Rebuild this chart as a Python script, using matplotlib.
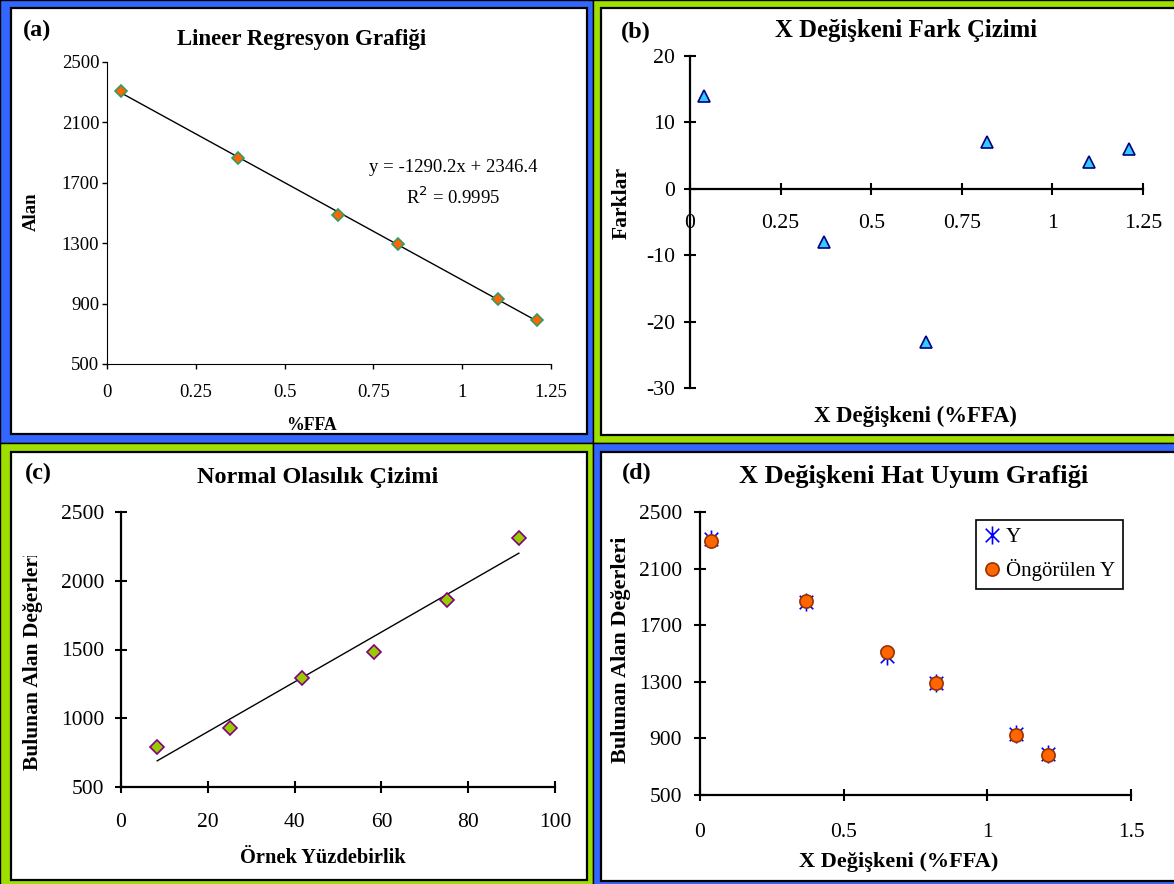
import numpy as np
import matplotlib
matplotlib.use("Agg")
from matplotlib import pyplot as plt
from matplotlib.patches import Rectangle
from matplotlib.path import Path
from matplotlib.transforms import Bbox, TransformedBbox

plt.rcParams["font.family"] = ["Liberation Serif", "DejaVu Serif"]

# Veriler
ffa = [0.04, 0.37, 0.65, 0.82, 1.10, 1.21]
alan = [2309, 1861, 1485, 1295, 931, 791]
ongorulen = [2295, 1869, 1508, 1288, 927, 785]
farklar = [14, -8, -23, 7, 4, 6]
yuzdebirlik = [8.33, 25, 41.67, 58.33, 75, 91.67]
alan_sirali = [791, 931, 1295, 1485, 1861, 2309]

# Eksen isaretleri
a_xticks = [0, 0.25, 0.5, 0.75, 1, 1.25]
a_yticks = [500, 900, 1300, 1700, 2100, 2500]
b_yticks = [-30, -20, -10, 0, 10, 20]
c_xticks = [0, 20, 40, 60, 80, 100]
c_yticks = [500, 1000, 1500, 2000, 2500]
d_xticks = [0, 0.5, 1, 1.5]

MAVI = "#3366FF"
YESIL = "#9EDF00"

W, H = 1174, 884
fig = plt.figure(figsize=(W / 100, H / 100), dpi=100)

# Excel tarzi yildiz isareti: X + dikey cizgi
yildiz = Path([(0, -1), (0, 1), (-0.75, -0.75), (0.75, 0.75), (-0.75, 0.75), (0.75, -0.75)],
              [Path.MOVETO, Path.LINETO, Path.MOVETO, Path.LINETO, Path.MOVETO, Path.LINETO])


def px(x0, y0, x1, y1):
    # piksel kutusunu figur oranina cevirir
    return [x0 / W, 1 - y1 / H, (x1 - x0) / W, (y1 - y0) / H]


def cerceve(dis, ic, renk):
    l, b, w, h = px(*dis)
    fig.add_artist(Rectangle((l, b), w, h, transform=fig.transFigure,
                             facecolor=renk, edgecolor="black", lw=1, zorder=-10))
    l, b, w, h = px(*ic)
    fig.add_artist(Rectangle((l, b), w, h, transform=fig.transFigure,
                             facecolor="white", edgecolor="black", lw=1.6, zorder=-9))


def yazi(x, y, s, **kw):
    return fig.text(x / W, 1 - y / H, s, **kw)


def etiket(v):
    return f"{v:g}"


def excel_eksen(ax, boyut, xpad, ypad):
    ax.set_facecolor("none")
    ax.spines[["top", "right"]].set_visible(False)
    for s in ("left", "bottom"):
        ax.spines[s].set_linewidth(1.6)
    ax.tick_params(direction="inout", length=8.6, width=1.5, labelsize=boyut)
    ax.tick_params(axis="x", pad=xpad)
    ax.tick_params(axis="y", pad=ypad)


cerceve((0, 0, 593, 443), (11, 8, 587, 434), MAVI)
cerceve((593, 0, 1180, 443), (601, 8, 1180, 435), YESIL)
cerceve((0, 443, 593, 890), (11, 452, 587, 880), YESIL)
cerceve((593, 443, 1180, 890), (601, 452, 1180, 881), MAVI)

# (a) Lineer regresyon
ax = fig.add_axes(px(107, 62, 551, 364))
ax.set_facecolor("none")
egim, kesim = np.polyfit(ffa, alan, 1)
xs = np.array([min(ffa), max(ffa)])
ax.plot(xs, egim * xs + kesim, color="black", lw=1)
ax.plot(ffa, alan, linestyle="none", marker="D", ms=6.5, mfc="#FF6600", mec="#339966", mew=1.2)
ax.set_xlim(0, 1.25)
ax.set_ylim(500, 2500)
ax.set_xticks(a_xticks, [etiket(v) for v in a_xticks])
ax.set_yticks(a_yticks, [etiket(v) for v in a_yticks])
ax.spines[["top", "right"]].set_visible(False)
ax.tick_params(direction="out", length=3.6, width=1, labelsize=13.5)
ax.tick_params(axis="x", pad=11)
ax.tick_params(axis="y", pad=2)
yazi(23, 30, "(a)", fontsize=17.5, fontweight="bold", va="center")
yazi(302, 39, "Lineer Regresyon Grafiği", fontsize=16.5, fontweight="bold", ha="center", va="center")
yazi(453, 168, "y = -1290.2x + 2346.4", fontsize=13.5, ha="center", va="center")
yazi(453, 197, "R$^2$ = 0.9995", fontsize=13.5, ha="center", va="center")
yazi(312, 425, "%FFA", fontsize=12.8, fontweight="bold", ha="center", va="center")
yazi(31, 212, "Alan", fontsize=13.5, fontweight="bold", rotation=90, ha="center", va="center")

# (b) Fark cizimi
ax = fig.add_axes(px(690, 56, 1143, 388))
ax.plot(ffa, farklar, linestyle="none", marker="^", ms=9, mfc="#33CCFF", mec="#000080", mew=1.2)
ax.set_xlim(0, 1.25)
ax.set_ylim(-30, 20)
ax.set_xticks(a_xticks, [etiket(v) for v in a_xticks])
ax.set_yticks(b_yticks, [etiket(v) for v in b_yticks])
excel_eksen(ax, 15.7, 13.7, 6.5)
ax.spines["bottom"].set_position(("data", 0))
yazi(621, 32, "(b)", fontsize=17.5, fontweight="bold", va="center")
yazi(906, 31, "X Değişkeni Fark Çizimi", fontsize=17.8, fontweight="bold", ha="center", va="center")
yazi(915, 416, "X Değişkeni (%FFA)", fontsize=16.4, fontweight="bold", ha="center", va="center")
yazi(622, 203, "Farklar", fontsize=15.5, fontweight="bold", rotation=90, ha="center", va="center")

# (c) Normal olasilik cizimi
ax = fig.add_axes(px(121, 512, 555, 787))
egim, kesim = np.polyfit(yuzdebirlik, alan_sirali, 1)
xs = np.array([min(yuzdebirlik), max(yuzdebirlik)])
ax.plot(xs, egim * xs + kesim, color="black", lw=1)
ax.plot(yuzdebirlik, alan_sirali, linestyle="none", marker="D", ms=7, mfc="#99CC00", mec="#800080", mew=1.2)
ax.set_xlim(0, 100)
ax.set_ylim(500, 2500)
ax.set_xticks(c_xticks, [etiket(v) for v in c_xticks])
ax.set_yticks(c_yticks, [etiket(v) for v in c_yticks])
excel_eksen(ax, 15.5, 14.6, 7.9)
yazi(25, 473, "(c)", fontsize=17.5, fontweight="bold", va="center")
yazi(318, 478, "Normal Olasılık Çizimi", fontsize=17.5, fontweight="bold", ha="center", va="center")
yazi(323, 858, "Örnek Yüzdebirlik", fontsize=14.7, fontweight="bold", ha="center", va="center")
t = yazi(33, 770, "Bulunan Alan Değerleri", fontsize=15.5, fontweight="bold", rotation=90,
         ha="center", va="bottom")
t.set_clip_box(TransformedBbox(Bbox.from_extents(0, 0, 1, 1 - 556 / H), fig.transFigure))
t.set_clip_on(True)

# (d) Hat uyum grafigi
ax = fig.add_axes(px(700, 512, 1131, 795))
ax.plot(ffa, alan, linestyle="none", marker=yildiz, ms=13, mfc="none", mec="#0000FF", mew=1.2, label="Y")
ax.plot(ffa, ongorulen, linestyle="none", marker="o", ms=9.5, mfc="#FF6600", mec="#993300", mew=1.2,
        label="Öngörülen Y")
ax.set_xlim(0, 1.5)
ax.set_ylim(500, 2500)
ax.set_xticks(d_xticks, [etiket(v) for v in d_xticks])
ax.set_yticks(a_yticks, [etiket(v) for v in a_yticks])
excel_eksen(ax, 15.5, 15.9, 8.6)
leg = ax.legend(loc="upper left", bbox_to_anchor=(976 / W, 1 - 520 / H), bbox_transform=fig.transFigure,
                borderaxespad=0, fontsize=15, frameon=True, fancybox=False, framealpha=1,
                edgecolor="black", handlelength=0.8, handletextpad=0.3, labelspacing=0.6,
                borderpad=0.35)
leg.get_frame().set_linewidth(1.2)
yazi(622, 473, "(d)", fontsize=17.5, fontweight="bold", va="center")
yazi(914, 477, "X Değişkeni Hat Uyum Grafiği", fontsize=19, fontweight="bold", ha="center", va="center")
yazi(899, 862, "X Değişkeni (%FFA)", fontsize=16, fontweight="bold", ha="center", va="center")
t = yazi(621, 763, "Bulunan Alan Değerleri", fontsize=16, fontweight="bold", rotation=90,
         ha="center", va="bottom")
t.set_clip_box(TransformedBbox(Bbox.from_extents(0, 0, 1, 1 - 538 / H), fig.transFigure))
t.set_clip_on(True)

fig.savefig("out.png", dpi=100)
